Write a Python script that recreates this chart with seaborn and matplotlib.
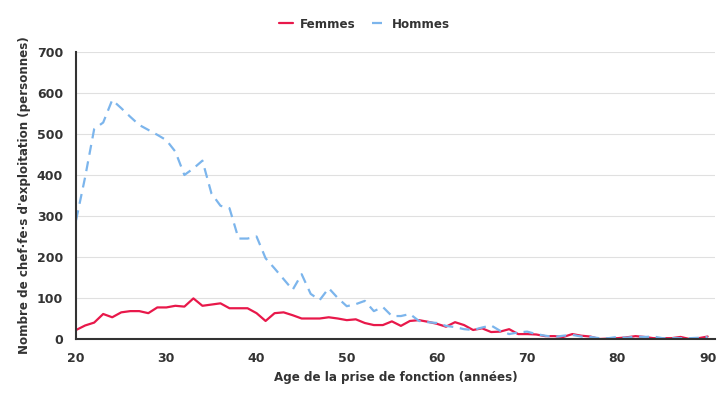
import matplotlib
matplotlib.use("Agg")
import matplotlib.pyplot as plt
import seaborn as sns
import pandas as pd

ages = list(range(20, 91))
femmes = [22, 33, 40, 61, 53, 65, 68, 68, 63, 77,
          77, 81, 79, 99, 81, 84, 87, 75, 75, 75,
          63, 44, 63, 65, 58, 50, 50, 50, 53, 50,
          46, 48, 39, 34, 34, 43, 32, 44, 46, 42,
          37, 30, 41, 34, 22, 26, 17, 18, 24, 12,
          12, 11, 7, 7, 5, 12, 8, 6, 0, 1,
          2, 4, 7, 5, 2, 2, 2, 5, 0, 2, 6]
hommes = [290, 395, 512, 528, 583, 563, 542, 522, 510, 498,
          485, 457, 400, 416, 435, 355, 325, 319, 245, 245,
          250, 197, 172, 146, 120, 158, 110, 95, 124, 100,
          80, 85, 93, 68, 78, 56, 56, 61, 44, 41,
          39, 32, 29, 24, 22, 28, 33, 20, 12, 16,
          18, 12, 8, 5, 8, 10, 6, 5, 2, 2,
          5, 3, 6, 5, 6, 2, 2, 2, 2, 3, 5]
series = ["Femmes", "Hommes"]
colors = ["#e8184a", "#7cb5ec"]

df = pd.DataFrame({
    "age": ages * 2,
    "value": femmes + hommes,
    "sexe": [series[0]] * len(ages) + [series[1]] * len(ages),
})

sns.set_style("white")
plt.rcParams["font.family"] = ["DejaVu Sans"]

fig = plt.figure(figsize=(7.25, 4.0), dpi=100)
ax = fig.add_axes([0.105, 0.1525, 0.881, 0.7175])

sns.lineplot(data=df, x="age", y="value", hue="sexe", style="sexe",
             palette=dict(zip(series, colors)),
             dashes={"Femmes": "", "Hommes": (4.5, 3)},
             linewidth=1.6, ax=ax, legend=True)

ax.set_xlim(20, 90.8)
ax.set_ylim(0, 700)
ax.set_xticks(range(20, 91, 10))
ax.set_yticks(range(0, 701, 100))
ax.yaxis.grid(True, color="#e0e0e0", linewidth=0.8)
ax.xaxis.grid(False)
ax.set_axisbelow(True)
for s in ["top", "right"]:
    ax.spines[s].set_visible(False)
for s in ["left", "bottom"]:
    ax.spines[s].set_color("#333333")
    ax.spines[s].set_linewidth(1.5)
ax.tick_params(axis="both", direction="out", length=6, width=1.5,
               color="#333333", labelsize=9, labelcolor="#333333")
for lab in ax.get_xticklabels() + ax.get_yticklabels():
    lab.set_fontweight("bold")
ax.set_xlabel("Age de la prise de fonction (années)", fontsize=8.6,
              fontweight="bold", color="#333333")
ax.set_ylabel("Nombre de chef·fe·s d'exploitation (personnes)", fontsize=8.6,
              fontweight="bold", color="#333333")

handles, labels = ax.get_legend_handles_labels()
ax.legend_.remove()
leg = fig.legend(handles, labels, loc="center", bbox_to_anchor=(0.503, 0.94),
                 ncol=2, frameon=False, prop={"weight": "bold", "size": 8.6},
                 handlelength=1.2, columnspacing=1.4, handletextpad=0.5)
for t in leg.get_texts():
    t.set_color("#333333")

fig.savefig("out.png", dpi=100)
